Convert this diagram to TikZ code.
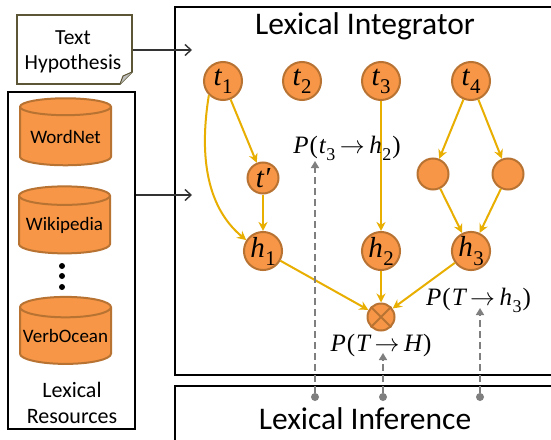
\documentclass[tikz,border=0pt]{standalone}
\usepackage{fontspec}
\setmainfont{Carlito}
\newfontfamily\mathf{Liberation Serif}[Ligatures=TeX]
\usetikzlibrary{shapes.geometric,arrows.meta,calc}
\definecolor{orangefill}{HTML}{F79646}
\definecolor{orangeedge}{HTML}{B87333}
\definecolor{edgegold}{HTML}{E8AE00}
\definecolor{dashgray}{HTML}{7F7F7F}
\definecolor{noteedge}{HTML}{5C5637}
\newcommand{\mv}[1]{{\mathf\itshape #1}}
\newcommand{\lbl}[2]{{\mathf\itshape #1\kern0.5pt\raisebox{-0.28em}{\fontsize{0.72em}{1em}\selectfont\upshape #2}}}
\newcommand{\toarrow}{\kern4.5pt$\rightarrow$\kern4.5pt}
\newcommand{\lp}{\kern1pt{\mathf(}\kern1pt}
\newcommand{\rp}{\kern1pt{\mathf)}}
\newcommand{\dbtxt}[1]{\raisebox{-3pt}{#1}}
\tikzset{
  x=1pt,y=-1pt,
  bignode/.style={circle,draw=orangeedge,line width=2pt,fill=orangefill,minimum size=38pt,inner sep=0pt,font=\fontsize{29}{29}\selectfont},
  smallnode/.style={circle,draw=orangeedge,line width=2pt,fill=orangefill,minimum size=31pt,inner sep=0pt,font=\fontsize{29}{29}\selectfont},
  opnode/.style={circle,draw=orangeedge,line width=2pt,fill=orangefill,minimum size=27pt,inner sep=0pt},
  db/.style={cylinder,shape border rotate=90,aspect=0.24,draw=orangeedge,line width=2pt,fill=orangefill,minimum width=91pt,minimum height=67pt,inner sep=0pt,font=\fontsize{19}{19}\selectfont,text=black},
  blackbox/.style={draw=black,line width=1.6pt,fill=white},
  gold/.style={draw=edgegold,line width=2pt,-{Stealth[length=9pt,width=9pt]}},
  dashline/.style={draw=dashgray,line width=1.6pt,dash pattern=on 7pt off 4pt,-{Triangle[length=7pt,width=8pt]}},
  feed/.style={draw=black!80,line width=1.4pt,-{Straight Barb[length=6pt,width=11pt]}},
  probe/.style={circle,fill=dashgray,inner sep=0pt,minimum size=8pt},
  plbl/.style={font=\fontsize{25}{25}\selectfont,inner sep=0pt},
  captxt/.style={font=\fontsize{22}{26}\selectfont,align=center,inner sep=0pt},
  headtxt/.style={font=\fontsize{31.5}{31.5}\selectfont,inner sep=0pt}
}
\begin{document}
\begin{tikzpicture}
\useasboundingbox (0,0) rectangle (551,439);
\fill[white] (0,0) rectangle (551,439);
% main boxes
\draw[blackbox] (175,7) -- (553,7) -- (553,375) -- (175,375) -- cycle;
\draw[blackbox] (175,441) -- (175,386) -- (553,386);
\node[headtxt] (title1) at (365,26) {Lexical Integrator};
\node[headtxt] (title2) at (365,419) {Lexical Inference};
% note
\draw[noteedge,line width=1.6pt,fill=white] (17,15) -- (132,15) -- (132,72) -- (120,84) -- (17,84) -- cycle;
\fill[black!25] (132,72) -- (123,76) -- (120,84) -- cycle;
\draw[noteedge,line width=1pt] (132,72) -- (123,76) -- (120,84);
\node[captxt,font=\fontsize{21.5}{25.5}\selectfont] (note) at (73,52) {Text\\Hypothesis};
\coordinate (noteout) at (133,50);
\coordinate (notein) at (192,50);
% resources
\draw[blackbox] (8,92) rectangle (135,429);
\node[db] (wn) at (65.5,136.5) {\dbtxt{WordNet}};
\node[db] (wp) at (64.5,225) {\dbtxt{Wikipedia}};
\node[db] (vo) at (65.5,336) {\dbtxt{VerbOcean}};
\foreach \yy in {266,276,287}{\fill[black] (62,\yy) circle (3pt);}
\node[captxt] (lr) at (72,403) {Lexical\\Resources};
\coordinate (resout) at (136,195);
\coordinate (resin) at (192,195);
\draw[feed] (noteout) -- (notein);
\draw[feed] (resout) -- (resin);
% graph nodes
\node[bignode] (t1) at (223,81) {\lbl{t}{1}};
\node[bignode] (t2) at (302,81) {\lbl{t}{2}};
\node[bignode] (t3) at (381,81) {\lbl{t}{3}};
\node[bignode] (t4) at (471,81) {\lbl{t}{4}};
\node[smallnode] (tp) at (263,178) {\mv{t′}};
\node[smallnode] (m1) at (433,174) {};
\node[smallnode] (m2) at (508,174) {};
\node[bignode] (h1) at (263,251) {\lbl{h}{1}};
\node[bignode] (h2) at (381,251) {\lbl{h}{2}};
\node[bignode] (h3) at (471,251) {\lbl{h}{3}};
\node[opnode] (op) at (381,317) {};
\draw[orangeedge,line width=2pt] (op.north west) -- (op.south east) (op.north east) -- (op.south west);
% gold edges
\draw[gold] (t1) -- (tp);
\draw[gold] (tp) -- (h1);
\draw[gold] (t1.south west) .. controls (200,150) and (204,205) .. (h1.147);
\draw[gold] (t3) -- (h2);
\draw[gold] (t4) -- (m1);
\draw[gold] (t4) -- (m2);
\draw[gold] (m1) -- (h3);
\draw[gold] (m2) -- (h3);
\draw[gold] (h1) -- (op);
\draw[gold] (h2) -- (op);
\draw[gold] (h3) -- (op);
% labels
\node[plbl] (p1) at (347,148) {\mv{P}\lp\lbl{t}{3}\toarrow\lbl{h}{2}\rp};
\node[plbl] (p2) at (381,345) {\mv{P}\lp\mv{T}\toarrow\mv{H}\rp};
\node[plbl] (p3) at (478.5,300) {\mv{P}\lp\mv{T}\toarrow\lbl{h}{3}\rp};
% dashed probes
\node[probe] (s1) at (315,397) {};
\node[probe] (s2) at (383,397) {};
\node[probe] (s3) at (480,397) {};
\coordinate (e1) at (315,161);
\coordinate (e2) at (383,353);
\coordinate (e3) at (480,308);
\draw[dashline] (s1) -- (e1);
\draw[dashline] (s2) -- (e2);
\draw[dashline] (s3) -- (e3);
\end{tikzpicture}
\end{document}
